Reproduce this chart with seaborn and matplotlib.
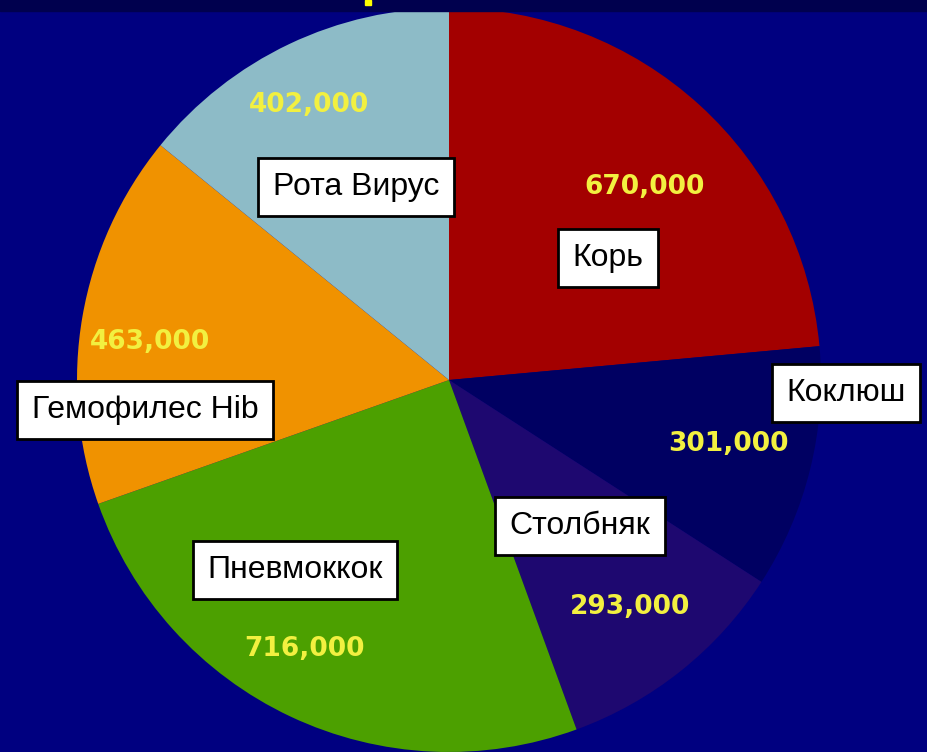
import matplotlib
matplotlib.use("Agg")
import matplotlib.pyplot as plt
from matplotlib.patches import Rectangle
import numpy as np
import seaborn as sns

# Data
diseases = ["Корь", "Коклюш", "Столбняк", "Пневмоккок", "Гемофилес Hib", "Рота Вирус"]
deaths = [670000, 301000, 293000, 716000, 463000, 402000]
colors = ["#A30000", "#000062", "#1E0870", "#4CA000", "#F09200", "#8DBBC7"]
value_dist = [0.74, 0.77, 0.78, 0.82, 0.81, 0.83]
value_angle_shift = [-3, 1, 0, -3, 2.5, 1.5]

sns.set_style("white")
plt.rcParams["font.family"] = ["Liberation Sans", "DejaVu Sans"]

W, H = 928, 752
fig = plt.figure(figsize=(W / 100, H / 100), dpi=100, facecolor="#000080")
ax = fig.add_axes([0, 0, 1, 1])
ax.set_facecolor("#000080")

cx, cy, r = 449, H - 380, 372
wedges, _ = ax.pie(
    deaths,
    colors=sns.color_palette(colors),
    startangle=90,
    counterclock=False,
    center=(cx, cy),
    radius=r,
    wedgeprops=dict(linewidth=0),
)
ax.set_xlim(0, W)
ax.set_ylim(0, H)
ax.set_aspect("equal")
ax.axis("off")

# value labels at slice mid-angles
for w, v, d, s in zip(wedges, deaths, value_dist, value_angle_shift):
    mid = np.deg2rad((w.theta1 + w.theta2) / 2 + s)
    ax.text(cx + d * r * np.cos(mid), cy + d * r * np.sin(mid), f"{v:,}",
            color="#F2F040", fontsize=19, fontweight="bold", family="DejaVu Sans",
            ha="center", va="center", zorder=4)

# dark top strip with cut-off title fragment
ax.add_patch(Rectangle((0, H - 11), W, 11, color="#00004E", zorder=5))
ax.add_patch(Rectangle((365, H - 5), 6, 5, color="#FFFF00", zorder=6))

# name boxes
label_pos = {
    "Корь": (608, 258),
    "Коклюш": (846, 393),
    "Столбняк": (580, 526),
    "Пневмоккок": (295, 570),
    "Гемофилес Hib": (145, 410),
    "Рота Вирус": (356, 187),
}
for name in diseases:
    x, y = label_pos[name]
    ax.text(x, H - y, name, fontsize=23, color="black", ha="center", va="center",
            zorder=7,
            bbox=dict(boxstyle="square,pad=0.45", facecolor="white",
                      edgecolor="black", linewidth=2))

fig.savefig("out.png", dpi=100, facecolor=fig.get_facecolor())
